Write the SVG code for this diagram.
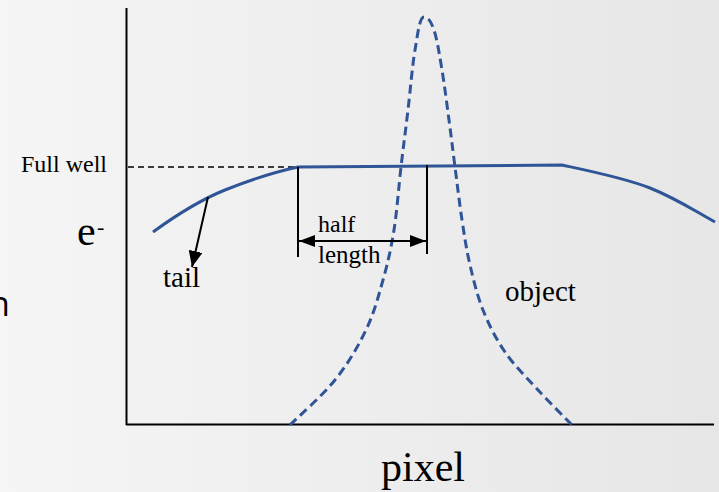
<svg xmlns="http://www.w3.org/2000/svg" width="719" height="492" viewBox="0 0 719 492">
  <defs>
    <linearGradient id="bg" x1="0" y1="0" x2="1" y2="0">
      <stop offset="0" stop-color="#f5f5f5"/>
      <stop offset="1" stop-color="#e6e6e6"/>
    </linearGradient>
    <marker id="ah" viewBox="0 0 16 12" refX="16" refY="6" markerWidth="16" markerHeight="12" markerUnits="userSpaceOnUse" orient="auto-start-reverse">
      <path d="M0,0 L16,6 L0,12 Z" fill="#000"/>
    </marker>
    <marker id="ah2" viewBox="0 0 16 14" refX="16" refY="7" markerWidth="16" markerHeight="14" markerUnits="userSpaceOnUse" orient="auto">
      <path d="M0,0 L16,7 L0,14 Z" fill="#000"/>
    </marker>
  </defs>
  <style>
    .serif { font-family: "Liberation Serif", "Times New Roman", serif; fill: #000; }
    .axis { stroke: #000; stroke-width: 2; fill: none; }
    .blue { stroke: #2f5597; stroke-width: 3; fill: none; }
    .dash-blue { stroke-dasharray: 9 5; }
    .thin { stroke: #000; stroke-width: 2; fill: none; }
  </style>
  <rect x="0" y="0" width="719" height="492" fill="url(#bg)"/>

  <g id="axes">
    <line class="axis" x1="126.5" y1="8" x2="126.5" y2="425"/>
    <line class="axis" x1="126" y1="424.5" x2="714" y2="424.5"/>
  </g>

  <g id="full-well-line">
    <line x1="128" y1="167" x2="297" y2="167" stroke="#000" stroke-width="1.5" stroke-dasharray="6 4"/>
  </g>

  <g id="object-curve">
    <path class="blue dash-blue" d="M290,425 C297.5,417.5 322.3,395.8 335,380 C347.7,364.2 358,346.7 366,330 C374,313.3 378.3,296.7 383,280 C387.7,263.3 391,248.8 394,230 C397,211.2 398.7,187 401,167 C403.3,147 405.7,129.5 408,110 C410.3,90.5 412.3,65.5 415,50 C417.7,34.5 419.5,17 424,17 C428,17 431,21.2 434,30 C437,38.8 439.5,55 442,70 C444.5,85 446.8,103.8 449,120 C451.2,136.2 452.8,150.3 455,167 C457.2,183.7 459.5,203.7 462,220 C464.5,236.3 466.5,250 470,265 C473.5,280 477.2,295.5 483,310 C488.8,324.5 495.8,338.7 505,352 C514.2,365.3 526.8,377.8 538,390 C549.2,402.2 566.3,419.2 574,427"/>
  </g>

  <g id="well-curve">
    <path class="blue" d="M153,232 C175,216 200,200 225,190 S270,173 298,167 L562,165 C590,171 625,178 650,188 S690,208 715,222"/>
  </g>

  <g id="tail-arrow">
    <line class="thin" x1="208" y1="197" x2="192" y2="267" marker-end="url(#ah2)"/>
  </g>

  <g id="half-length">
    <line class="thin" x1="298" y1="167" x2="298" y2="257"/>
    <line class="thin" x1="427" y1="165" x2="427" y2="254"/>
    <line class="thin" x1="299" y1="241" x2="426" y2="241" marker-start="url(#ah)" marker-end="url(#ah)"/>
  </g>

  <g id="labels">
    <text class="serif" x="21" y="172" font-size="24">Full well</text>
    <text class="serif" x="77" y="245" font-size="42">e</text>
    <text class="serif" x="97" y="234" font-size="22">-</text>
    <text class="serif" x="318" y="232" font-size="24">half</text>
    <text class="serif" x="318" y="263" font-size="25">length</text>
    <text class="serif" x="163" y="287" font-size="29">tail</text>
    <text class="serif" x="505" y="301" font-size="29">object</text>
    <text class="serif" x="381" y="481" font-size="42">pixel</text>
    <text x="-11" y="316" font-size="34" font-family="'Open Sans', 'Noto Sans', sans-serif" fill="#000">n</text>
  </g>
</svg>
